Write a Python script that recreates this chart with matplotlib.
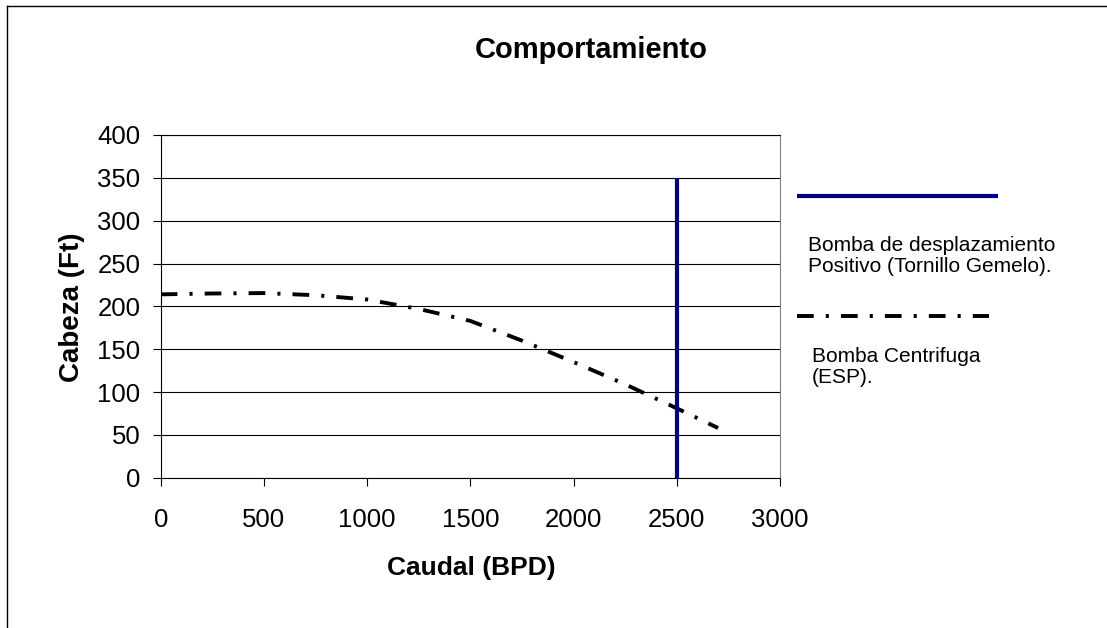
import matplotlib
matplotlib.use("Agg")
import matplotlib.pyplot as plt
from matplotlib.lines import Line2D

plt.rcParams['font.family'] = ['Liberation Sans', 'DejaVu Sans']

# Pump curves: flow (BPD) vs head (ft)
caudal_esp = [0, 250, 500, 750, 1000, 1250, 1500, 1750, 2000, 2250, 2500, 2700]
cabeza_esp = [214, 215, 215.5, 213, 208, 197, 183, 160, 135, 109, 81, 58]

caudal_pcp = [2500, 2500]
cabeza_pcp = [0, 350]

x_ticks = [0, 500, 1000, 1500, 2000, 2500, 3000]
y_ticks = [0, 50, 100, 150, 200, 250, 300, 350, 400]

title = "Comportamiento"
x_label = "Caudal (BPD)"
y_label = "Cabeza (Ft)"
label_pcp = "Bomba de desplazamiento\nPositivo (Tornillo Gemelo)."
label_esp = "Bomba Centrifuga\n(ESP)."

W, H = 1107, 628
fig = plt.figure(figsize=(W / 100, H / 100), dpi=100)
fig.patch.set_facecolor('white')

def fx(px):
    return px / W

def fy(py):
    return 1 - py / H

ax = fig.add_axes([fx(160.7), fy(477.7), fx(780) - fx(160.7), fy(135) - fy(477.7)])

navy = '#000080'
dashdot = (0, (4.3, 3.1, 0.8, 3.1))

ax.plot(caudal_esp, cabeza_esp, color='black', lw=2.8, linestyle=dashdot,
        dash_capstyle='butt', zorder=3)
ax.plot(caudal_pcp, cabeza_pcp, color=navy, lw=3.0, solid_capstyle='butt', zorder=4)

ax.set_xlim(0, 3000)
ax.set_ylim(0, 400)
ax.set_xticks(x_ticks)
ax.set_yticks(y_ticks)
ax.yaxis.grid(True, color='black', lw=0.8)
ax.set_axisbelow(True)

for s in ['left', 'bottom', 'top']:
    ax.spines[s].set_color('black')
    ax.spines[s].set_linewidth(0.8)
ax.spines['right'].set_color('#808080')
ax.spines['right'].set_linewidth(0.8)

ax.tick_params(axis='both', direction='out', length=5.5, width=0.8, color='black',
               labelsize=18.5)
ax.tick_params(axis='x', pad=16)
ax.tick_params(axis='y', pad=9)

fig.text(fx(471), fy(568), x_label, ha='center', va='center', fontsize=19,
         fontweight='bold')
fig.text(fx(72), fy(307), y_label, ha='center', va='center', fontsize=20,
         fontweight='bold', rotation=90)
fig.text(fx(591), fy(50), title, ha='center', va='center', fontsize=21,
         fontweight='bold')

# Legend entries: line sample above the label
fig.add_artist(Line2D([fx(797), fx(998)], [fy(196), fy(196)], color=navy, lw=3.0,
                      solid_capstyle='butt'))
fig.text(fx(808), fy(256), label_pcp, ha='left', va='center', fontsize=15,
         linespacing=1.1)
fig.add_artist(Line2D([fx(797), fx(989)], [fy(316), fy(316)], color='black', lw=2.8,
                      linestyle=dashdot, dash_capstyle='butt'))
fig.text(fx(812), fy(367), label_esp, ha='left', va='center', fontsize=15,
         linespacing=1.1)

# Chart frame
fig.add_artist(Line2D([fx(7), fx(7)], [0, fy(6)], color='black', lw=1.0))
fig.add_artist(Line2D([fx(7), 1], [fy(6), fy(6)], color='black', lw=1.0))

fig.savefig('out.png', dpi=100, facecolor='white')
